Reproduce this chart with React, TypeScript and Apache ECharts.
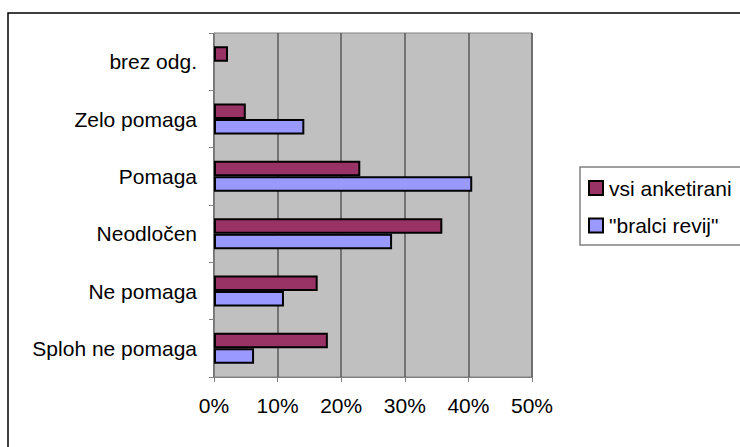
import React, { useEffect, useRef } from "react";
import * as echarts from "echarts";

// Survey answers, listed bottom to top as they appear on the category axis
const categories = [
  "Sploh ne pomaga",
  "Ne pomaga",
  "Neodločen",
  "Pomaga",
  "Zelo pomaga",
  "brez odg.",
];

const seriesNames = ["vsi anketirani", "\"bralci revij\""];

// Shares in percent
const vsiAnketirani = [17.9, 16.3, 35.9, 23.0, 5.0, 2.2];
const bralciRevij: (number | null)[] = [6.3, 11.0, 28.0, 40.6, 14.2, null];

const xTicks = { min: 0, max: 50, interval: 10 };

const FONT = "'Liberation Sans', Arial, sans-serif";

export default function App() {
  const ref = useRef<HTMLDivElement>(null);

  useEffect(() => {
    if (!ref.current) return;
    const chart = echarts.init(ref.current, null, { renderer: "svg" });

    chart.setOption({
      animation: false,
      backgroundColor: "#ffffff",
      textStyle: { fontFamily: FONT },
      grid: {
        left: 214,
        top: 33,
        width: 318,
        height: 344,
        show: true,
        backgroundColor: "#C0C0C0",
        borderColor: "#808080",
        borderWidth: 1,
        containLabel: false,
      },
      legend: {
        data: seriesNames,
        orient: "vertical",
        left: 588,
        top: 177.5,
        itemWidth: 14,
        itemHeight: 14,
        itemGap: 16.5,
        icon: "rect",
        padding: 0,
        textStyle: {
          fontFamily: FONT,
          fontSize: 21,
          lineHeight: 21,
          color: "#000",
          padding: [0, 0, 0, 1],
        },
      },
      xAxis: {
        type: "value",
        min: xTicks.min,
        max: xTicks.max,
        interval: xTicks.interval,
        axisLine: { show: true, lineStyle: { color: "#808080", width: 1 } },
        axisTick: {
          show: true,
          length: 5,
          lineStyle: { color: "#808080", width: 1 },
        },
        axisLabel: {
          formatter: "{value}%",
          margin: 18,
          color: "#000",
          fontFamily: FONT,
          fontSize: 21,
        },
        splitLine: {
          show: true,
          lineStyle: { color: "#5a5a5a", width: 1.5 },
        },
      },
      yAxis: {
        type: "category",
        data: categories,
        axisLine: { show: true, lineStyle: { color: "#808080", width: 1 } },
        axisTick: {
          show: true,
          length: 5,
          lineStyle: { color: "#808080", width: 1 },
        },
        axisLabel: {
          margin: 17,
          color: "#000",
          fontFamily: FONT,
          fontSize: 21,
        },
        splitLine: { show: false },
      },
      series: [
        {
          name: seriesNames[0],
          type: "bar",
          data: vsiAnketirani,
          barWidth: 15.5,
          barGap: "0%",
          itemStyle: { color: "#993366", borderColor: "#000", borderWidth: 2 },
        },
        {
          name: seriesNames[1],
          type: "bar",
          data: bralciRevij,
          barWidth: 15.5,
          barGap: "0%",
          itemStyle: { color: "#9999FF", borderColor: "#000", borderWidth: 2 },
        },
      ],
      graphic: [
        {
          type: "rect",
          silent: true,
          z: -1,
          shape: { x: 8, y: 13, width: 800, height: 800 },
          style: { fill: "none", stroke: "#000", lineWidth: 1.5 },
        },
        {
          type: "rect",
          silent: true,
          z: -1,
          shape: { x: 580, y: 167, width: 200, height: 78 },
          style: { fill: "#fff", stroke: "#808080", lineWidth: 1.5 },
        },
      ],
    });

    return () => chart.dispose();
  }, []);

  return (
    <div
      ref={ref}
      style={{ position: "absolute", left: 0, top: 0, width: 740, height: 447 }}
    />
  );
}
